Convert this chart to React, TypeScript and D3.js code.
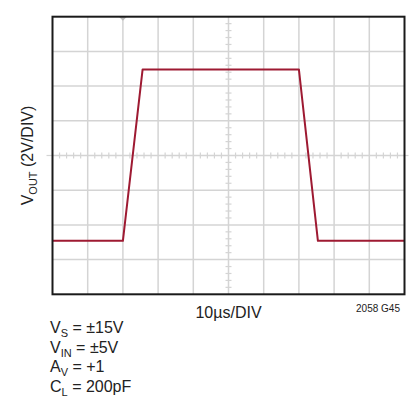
import React from "react";
import * as d3 from "d3";

// time in µs (10 µs/div), voltage in V (2 V/div)
const timeUs = [0, 20, 25.6, 70, 75.4, 100];
const voutV = [-4.92, -4.92, 4.96, 4.96, -4.92, -4.92];
const xTicks = [0, 10, 20, 30, 40, 50, 60, 70, 80, 90, 100];
const yTicks = [-8, -6, -4, -2, 0, 2, 4, 6, 8];
const conditions = [
  { main: "V", sub: "S", rest: " = ±15V" },
  { main: "V", sub: "IN", rest: " = ±5V" },
  { main: "A", sub: "V", rest: " = +1" },
  { main: "C", sub: "L", rest: " = 200pF" },
];

const W = 418;
const H = 404;
const L = 52.5, R = 404.5, T = 16.7, B = 294.3;
const FONT = "'Liberation Sans Narrow', 'Liberation Sans', Arial, sans-serif";

export default function App() {
  const x = d3.scaleLinear().domain([0, 100]).range([L, R]);
  const y = d3.scaleLinear().domain([-8, 8]).range([B, T]);
  const line = d3
    .line<number>()
    .x((_, i) => x(timeUs[i]))
    .y((d) => y(d));
  const minorX = d3.range(0, 100.001, 2).filter((t) => t % 10 !== 0);
  const minorY = d3.range(-8, 8.001, 0.4).filter((v) => Math.abs(v / 2 - Math.round(v / 2)) > 0.01);
  const grid = "#d4d4d4";
  const red = "#9e1a32";
  return (
    <svg
      width={W}
      height={H}
      style={{ position: "absolute", left: 0, top: 0, background: "#fff" }}
      fontFamily={FONT}
    >
      {xTicks.slice(1, -1).map((t) => (
        <line key={"gx" + t} x1={x(t)} x2={x(t)} y1={T} y2={B} stroke={grid} strokeWidth={1.5} />
      ))}
      {yTicks.slice(1, -1).map((v) => (
        <line key={"gy" + v} x1={L} x2={R} y1={y(v)} y2={y(v)} stroke={grid} strokeWidth={1.5} />
      ))}
      {minorX.map((t) => (
        <line key={"mx" + t} x1={x(t)} x2={x(t)} y1={y(0) - 3} y2={y(0) + 3} stroke={grid} strokeWidth={1.2} />
      ))}
      {minorY.map((v) => (
        <line key={"my" + v} x1={x(50) - 3} x2={x(50) + 3} y1={y(v)} y2={y(v)} stroke={grid} strokeWidth={1.2} />
      ))}
      <line x1={L - 6} x2={L} y1={y(0)} y2={y(0)} stroke={grid} strokeWidth={1.2} />
      <line x1={R} x2={R + 4} y1={y(0)} y2={y(0)} stroke={grid} strokeWidth={1.2} />
      <path
        d={`M${x(20) - 4},${T} L${x(20) + 4},${T} L${x(20)},${T + 4} Z`}
        fill="#bdbdbd"
      />
      <path d={line(voutV) || ""} fill="none" stroke={red} strokeWidth={2} strokeLinejoin="round" />
      <rect x={L} y={T} width={R - L} height={B - T} fill="none" stroke="#1a1a1a" strokeWidth={2} />
      <text
        transform={`translate(33,${(T + B) / 2}) rotate(-90)`}
        textAnchor="middle"
        fontSize={16}
        fill="#222"
      >
        <tspan>V</tspan>
        <tspan fontSize={11} dy={4}>OUT</tspan>
        <tspan dy={-4}> (2V/DIV)</tspan>
      </text>
      <text x={x(50)} y={318} textAnchor="middle" fontSize={16} fill="#222">
        10µs/DIV
      </text>
      <text x={400} y={312} textAnchor="end" fontSize={10} fill="#222">
        2058 G45
      </text>
      {conditions.map((c, i) => (
        <text key={c.main + c.sub} x={50} y={333 + i * 19.5} fontSize={16} fill="#222">
          <tspan>{c.main}</tspan>
          <tspan fontSize={11} dy={4}>{c.sub}</tspan>
          <tspan dy={-4}>{c.rest}</tspan>
        </text>
      ))}
    </svg>
  );
}
